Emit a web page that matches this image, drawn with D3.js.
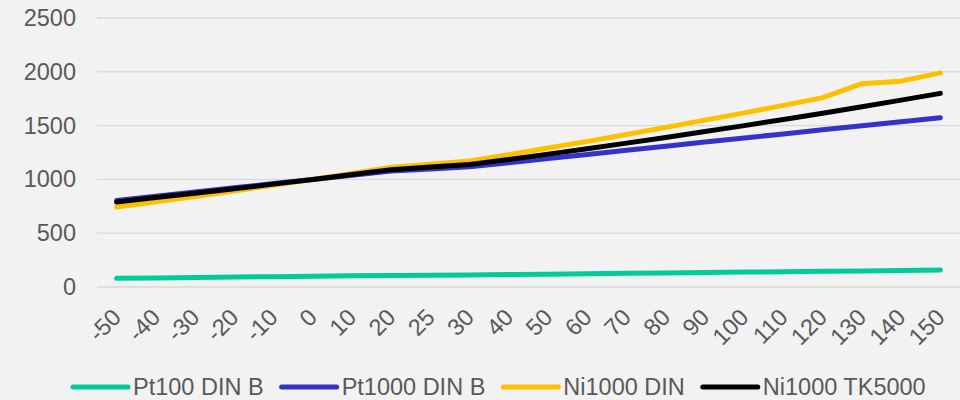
<!DOCTYPE html>
<html>
<head>
<meta charset="utf-8">
<script src="https://cdn.jsdelivr.net/npm/d3@7"></script>
<style>
  html, body { margin: 0; padding: 0; background: #f2f2f2; }
  svg { display: block; }
  text { font-family: "Liberation Sans", Arial, sans-serif; fill: #595959; }
</style>
</head>
<body>
<svg id="chart" width="960" height="400"></svg>
<script>
// Temperature points (°C)
const categories = ["-50","-40","-30","-20","-10","0","10","20","25","30","40","50","60","70","80","90","100","110","120","130","140","150"];

// Sensor resistance (Ω) per temperature point
const pt100 =   [80.31, 84.27, 88.22, 92.16, 96.09, 100, 103.9, 107.79, 109.73, 111.67, 115.54, 119.4, 123.24, 127.08, 130.9, 134.71, 138.51, 142.29, 146.07, 149.83, 153.58, 157.33];
const pt1000 =  [803.1, 842.7, 882.2, 921.6, 960.9, 1000, 1039, 1077.9, 1097.3, 1116.7, 1155.4, 1194, 1232.4, 1270.8, 1309, 1347.1, 1385.1, 1422.9, 1460.7, 1498.3, 1535.8, 1573.3];
const ni1000 =  [742.6, 791.3, 841.5, 893, 945.8, 1000, 1055.5, 1112.4, 1141.1, 1170.6, 1230.1, 1291.1, 1353.7, 1417.8, 1483.5, 1550.9, 1618, 1688, 1760, 1890, 1913, 1990];
const ni1000tk = [790.9, 830.8, 871.7, 913.5, 956.2, 1000, 1044.8, 1090.7, 1114.3, 1137.6, 1185.7, 1235, 1285.4, 1337.1, 1390.1, 1444.4, 1500, 1557, 1615.3, 1675.2, 1736.5, 1799.5];

const seriesNames = ["Pt100 DIN B", "Pt1000 DIN B", "Ni1000 DIN", "Ni1000 TK5000"];
const seriesColors = ["#00CC99", "#3333CC", "#FFC000", "#000000"];
const yTicks = [0, 500, 1000, 1500, 2000, 2500];

const series = [pt100, pt1000, ni1000, ni1000tk].map((values, i) => ({
  name: seriesNames[i], color: seriesColors[i], values
}));

const svg = d3.select("#chart");
const plot = { left: 97, right: 960, top: 18, bottom: 287 };

const x = d3.scaleBand().domain(categories).range([plot.left, plot.right]).padding(0);
const y = d3.scaleLinear().domain([0, 2500]).range([plot.bottom, plot.top]);
const cx = c => x(c) + x.bandwidth() / 2;

// Horizontal gridlines
svg.append("g").selectAll("line").data(yTicks).join("line")
  .attr("x1", plot.left).attr("x2", plot.right)
  .attr("y1", d => y(d)).attr("y2", d => y(d))
  .attr("stroke", "#d9d9d9").attr("stroke-width", 1.3);

// Y axis labels
const yAxis = svg.append("g")
  .attr("transform", `translate(${plot.left - 21},0)`)
  .call(d3.axisLeft(y).tickValues(yTicks).tickSize(0).tickPadding(0).tickFormat(d3.format("d")));
yAxis.select(".domain").remove();
yAxis.selectAll("text").attr("font-size", "23.5px").style("fill", "#595959")
  .attr("font-family", "Liberation Sans, Arial, sans-serif");

// X axis labels, rotated
svg.append("g").selectAll("text").data(categories).join("text")
  .attr("transform", d => `translate(${cx(d)},313) rotate(-45)`)
  .attr("text-anchor", "end")
  .attr("dy", "0.35em")
  .attr("font-size", "23.5px")
  .text(d => d);

// Series lines
const line = d3.line().x((d, i) => cx(categories[i])).y(d => y(d));
svg.append("g").selectAll("path").data(series).join("path")
  .attr("d", s => line(s.values))
  .attr("fill", "none")
  .attr("stroke", s => s.color)
  .attr("stroke-width", 5)
  .attr("stroke-linecap", "round")
  .attr("stroke-linejoin", "round");

// Legend
const legend = svg.append("g");
let lx = 73;
const ly = 387;
series.forEach(s => {
  legend.append("line")
    .attr("x1", lx).attr("x2", lx + 55).attr("y1", ly).attr("y2", ly)
    .attr("stroke", s.color).attr("stroke-width", 5).attr("stroke-linecap", "round");
  const t = legend.append("text")
    .attr("x", lx + 60).attr("y", ly).attr("dy", "0.35em")
    .attr("font-size", "23.5px").text(s.name);
  lx += 60 + t.node().getComputedTextLength() + 18;
});
</script>
</body>
</html>
